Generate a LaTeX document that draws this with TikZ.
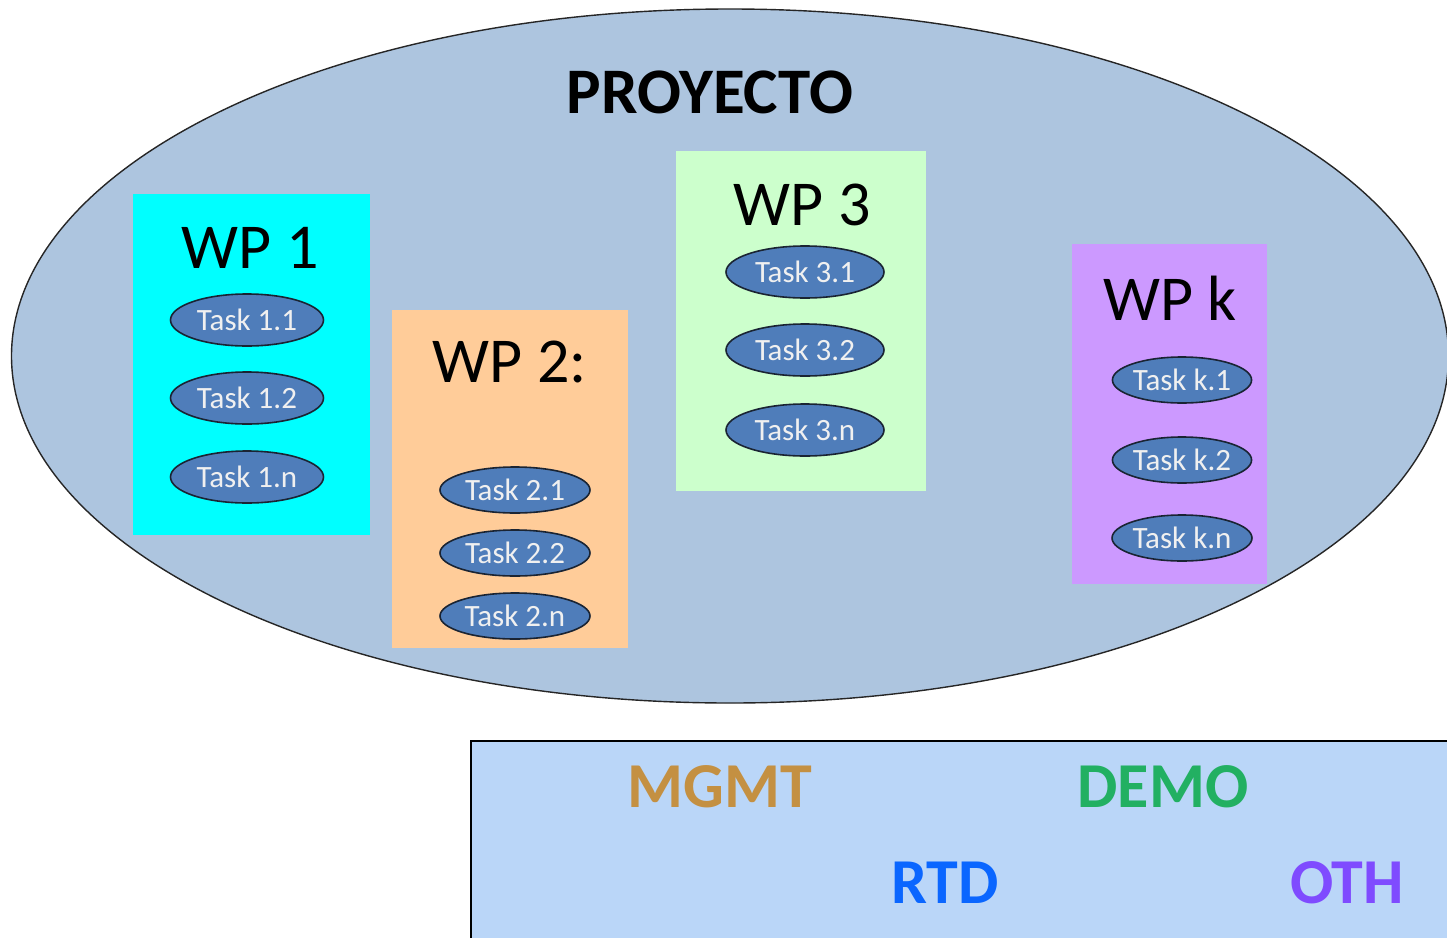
\documentclass[tikz,border=0pt]{standalone}
\usepackage{fontspec}
\setmainfont{Carlito}
\usetikzlibrary{shapes.geometric}
\definecolor{projfill}{HTML}{ADC5DF}
\definecolor{wpone}{HTML}{00FFFF}
\definecolor{wptwo}{HTML}{FFCC99}
\definecolor{wpthree}{HTML}{CCFFCC}
\definecolor{wpk}{HTML}{CC99FF}
\definecolor{taskfill}{HTML}{4F7DBA}
\definecolor{taskline}{HTML}{1A2433}
\definecolor{legfill}{HTML}{BAD6F8}
\definecolor{cmgmt}{HTML}{C49042}
\definecolor{cdemo}{HTML}{22B062}
\definecolor{crtd}{HTML}{0A66FF}
\definecolor{coth}{HTML}{7F4BFF}
\tikzset{
  wpbox/.style={draw=none, inner sep=0pt, anchor=north west},
  wplabel/.style={font=\fontsize{64}{64}\selectfont, inner sep=0pt, text=black},
  task/.style={ellipse, draw=taskline, line width=1.6pt, fill=taskfill, inner sep=0pt,
    text=white!94!black, font=\fontsize{31}{31}\selectfont},
  legtext/.style={font=\bfseries\fontsize{64}{64}\selectfont, inner sep=0pt},
}
\begin{document}
\begin{tikzpicture}[x=1pt,y=-1pt]
\useasboundingbox (0,0) rectangle (1447,937);
\clip (0,0) rectangle (1447,937);
\fill[white] (0,0) rectangle (1447,937);
% project ellipse
\node[ellipse, draw=black!85, line width=1.4pt, fill=projfill, minimum width=1437pt, minimum height=694pt, inner sep=0pt] (proj) at (730,356) {};
\node[font=\bfseries\fontsize{65}{65}\selectfont, inner sep=0pt] (ptitle) at (710,92) {PROYECTO};
% WP 1
\node[wpbox, fill=wpone, minimum width=237pt, minimum height=341pt] (wp1) at (133,194) {};
\node[wplabel] (wp1l) at (250,248) {WP 1};
\node[task, minimum width=153pt, minimum height=52pt] (t11) at (247,320) {Task 1.1};
\node[task, minimum width=153pt, minimum height=52pt] (t12) at (247,398) {Task 1.2};
\node[task, minimum width=153pt, minimum height=52pt] (t1n) at (247,477) {Task 1.n};
% WP 2
\node[wpbox, fill=wptwo, minimum width=236pt, minimum height=338pt] (wp2) at (392,310) {};
\node[wplabel] (wp2l) at (510,362) {WP 2:};
\node[task, minimum width=150pt, minimum height=46pt] (t21) at (515,490) {Task 2.1};
\node[task, minimum width=150pt, minimum height=46pt] (t22) at (515,553) {Task 2.2};
\node[task, minimum width=150pt, minimum height=46pt] (t2n) at (515,616) {Task 2.n};
% WP 3
\node[wpbox, fill=wpthree, minimum width=250pt, minimum height=340pt] (wp3) at (676,151) {};
\node[wplabel] (wp3l) at (802,205) {WP 3};
\node[task, minimum width=158pt, minimum height=52pt] (t31) at (805,272) {Task 3.1};
\node[task, minimum width=158pt, minimum height=52pt] (t32) at (805,350) {Task 3.2};
\node[task, minimum width=158pt, minimum height=52pt] (t3n) at (805,430) {Task 3.n};
% WP k
\node[wpbox, fill=wpk, minimum width=195pt, minimum height=340pt] (wpk) at (1072,244) {};
\node[wplabel] (wpkl) at (1170,298) {WP k};
\node[task, minimum width=126pt, minimum height=46pt] (tk1) at (1182,380) {Task k.1};
\node[task, minimum width=126pt, minimum height=46pt] (tk2) at (1182,460) {Task k.2};
\node[task, minimum width=126pt, minimum height=46pt] (tkn) at (1182,538) {Task k.n};
% legend box
\node[draw=black, line width=2pt, fill=legfill, minimum width=1040pt, minimum height=260pt, anchor=north west, inner sep=0pt] (leg) at (470,740) {};
\node[legtext, text=cmgmt] (mgmt) at (720,787) {MGMT};
\node[legtext, text=cdemo] (demo) at (1163,787) {DEMO};
\node[legtext, text=crtd] (rtd) at (945,883) {RTD};
\node[legtext, text=coth] (oth) at (1347,883) {OTH};
\end{tikzpicture}
\end{document}
